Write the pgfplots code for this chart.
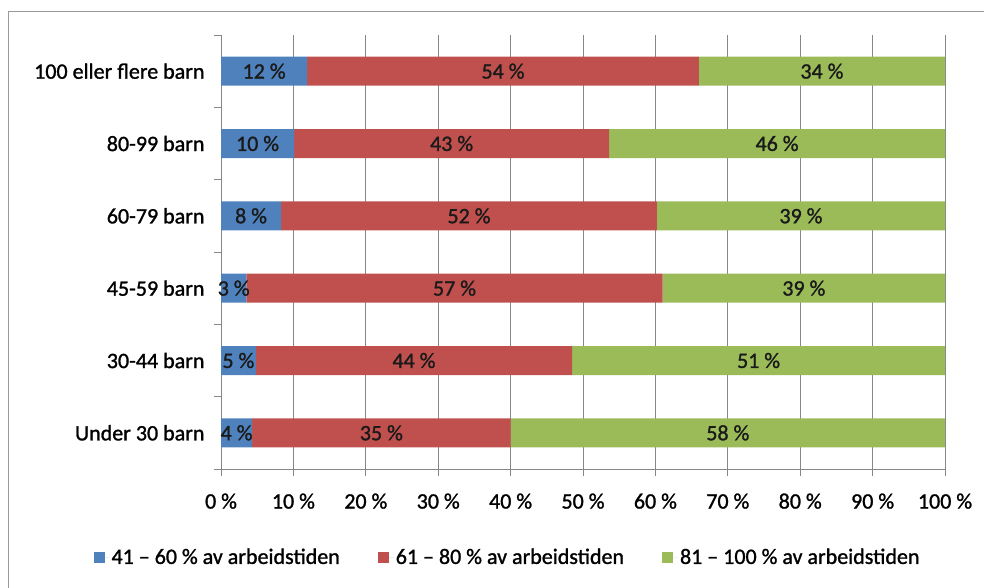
\documentclass[border=0pt]{standalone}
\usepackage{pgfplots}
\pgfplotsset{compat=1.18}
\usepackage{fontspec}
\setmainfont{Carlito}[FakeBold=1.2]
\definecolor{cblue}{HTML}{4F81BD}
\definecolor{cred}{HTML}{C0504D}
\definecolor{cgreen}{HTML}{9BBB59}
\definecolor{gridgray}{HTML}{878787}
\definecolor{framegray}{HTML}{9A9A9A}
\definecolor{lbl}{HTML}{1A1A1A}
\begin{document}
\begin{tikzpicture}[font=\fontsize{22}{26}\selectfont]
\useasboundingbox (0,0) rectangle (984pt,587pt);
\draw[framegray, line width=1pt] (8pt,-2pt) -- (8pt,575pt) -- (986pt,575pt);
\begin{axis}[
  at={(221pt,118pt)}, anchor=south west,
  scale only axis, width=724pt, height=434pt,
  xbar stacked, bar width=29pt,
  xmin=0, xmax=100, ymin=0.5, ymax=6.5,
  axis x line*=bottom, axis y line*=left,
  axis line style={gridgray, line width=0.8pt, -},
  xtick={0,10,...,100},
  xticklabels={0 \%,10 \%,20 \%,30 \%,40 \%,50 \%,60 \%,70 \%,80 \%,90 \%,100 \%},
  ytick={0.5,1.5,...,6.5},
  yticklabels={,,,,,,},
  tick align=outside, major tick length=7pt,
  tick style={gridgray, line width=0.8pt},
  extra y ticks={1,2,3,4,5,6},
  extra y tick labels={Under 30 barn,30-44 barn,45-59 barn,60-79 barn,80-99 barn,100 eller flere barn},
  extra y tick style={major tick length=0pt, tick style={draw=none}},
  tick label style={font=\fontsize{22}{26}\selectfont, text=black},
  yticklabel style={xshift=-13pt},
  xticklabel style={yshift=-14pt},
  xmajorgrids, grid style={gridgray, line width=0.8pt},
  legend style={at={(0.3957,-0.2028)}, anchor=center, legend columns=3, draw=none, fill=none,
    font=\fontsize{22}{26}\selectfont, inner sep=0pt,
    /tikz/every even column/.append style={column sep=36pt}},
  legend cell align=left,
  legend image code/.code={\fill[#1] (0pt,-5.5pt) rectangle (11pt,5.5pt); \path (0pt,0pt) -- (16pt,0pt);},
]
\addplot[fill=cblue, draw=none] coordinates {(4.3,1) (4.8,2) (3.5,3) (8.3,4) (10.1,5) (11.9,6)};
\addplot[fill=cred, draw=none] coordinates {(35.7,1) (43.7,2) (57.5,3) (51.9,4) (43.5,5) (54.1,6)};
\addplot[fill=cgreen, draw=none] coordinates {(60.0,1) (51.5,2) (39.0,3) (39.8,4) (46.4,5) (34.0,6)};
\addlegendentry{41 – 60 \% av arbeidstiden}
\addlegendentry{61 – 80 \% av arbeidstiden}
\addlegendentry{81 – 100 \% av arbeidstiden}
\end{axis}
\begin{axis}[
  at={(221pt,118pt)}, anchor=south west,
  scale only axis, width=724pt, height=434pt,
  xmin=0, xmax=100, ymin=0.5, ymax=6.5,
  hide axis, clip=false,
]
\addplot[draw=none, mark=none, nodes near coords, point meta=explicit symbolic,
  nodes near coords style={anchor=center, text=lbl, font=\fontsize{22}{26}\selectfont}]
coordinates {
(2.15,1)[4 \%] (22.15,1)[35 \%] (70,1)[58 \%]
(2.4,2)[5 \%] (26.65,2)[44 \%] (74.25,2)[51 \%]
(1.75,3)[3 \%] (32.25,3)[57 \%] (80.5,3)[39 \%]
(4.15,4)[8 \%] (34.25,4)[52 \%] (80.1,4)[39 \%]
(5.05,5)[10 \%] (31.85,5)[43 \%] (76.8,5)[46 \%]
(5.95,6)[12 \%] (38.95,6)[54 \%] (83,6)[34 \%]
};
\end{axis}
\end{tikzpicture}
\end{document}
